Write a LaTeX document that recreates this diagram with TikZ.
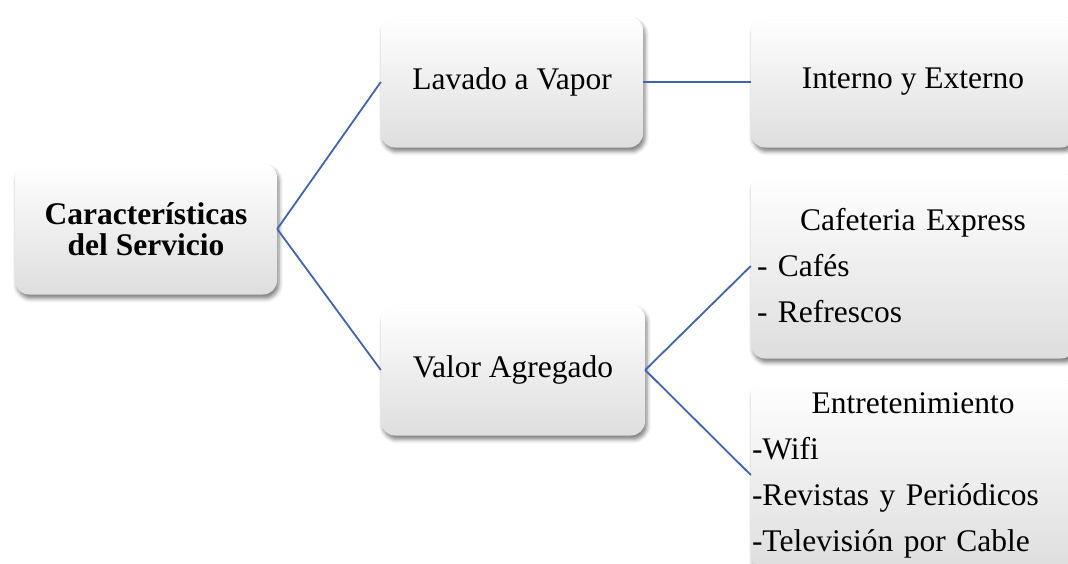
\documentclass[tikz,border=0pt]{standalone}
\usepackage{fontspec}
\setmainfont{Liberation Serif}
\usetikzlibrary{shadows.blur}
\definecolor{linea}{RGB}{66,100,172}

\begin{document}
\begin{tikzpicture}[x=1pt, y=-1pt,
		caja/.style={rounded corners=14pt, top color=white, middle color=white, bottom color=black!13,
			blur shadow={shadow xshift=2pt, shadow yshift=-4pt, shadow opacity=50, shadow blur radius=4pt},
			inner sep=0pt, align=center, font=\fontsize{31.5}{46}\selectfont},
		enlace/.style={draw=linea, line width=1.8pt}]
			\useasboundingbox (0,0) rectangle (1068,563);
			% nivel 1
			\node[caja, minimum width=262pt, minimum height=131pt, font=\bfseries\fontsize{31.5}{31}\selectfont] (raiz) at (146,229) {Características\\del Servicio};
			% nivel 2
			\node[caja, minimum width=262pt, minimum height=131pt] (lavado) at (512,82) {Lavado a Vapor};
			\node[caja, minimum width=264pt, minimum height=131pt] (valor) at (513,370) {Valor Agregado};
			% nivel 3
			\node[caja, minimum width=324pt, minimum height=131pt] (interno) at (913,82) {Interno y Externo};
			\node[caja, minimum width=324pt, minimum height=185pt, inner xsep=6pt, text width=312pt, align=left] (cafe) at (913,266)
				{\makebox[\linewidth][c]{Cafeteria Express}\\- Cafés\\- Refrescos};
			\node[caja, minimum width=324pt, minimum height=191pt, inner xsep=1pt, text width=322pt, align=left] (entre) at (913,475)
				{\makebox[\linewidth][c]{Entretenimiento}\\-Wifi\\-Revistas y Periódicos\\-Televisión por Cable};
			\draw[enlace] (raiz.east) -- (lavado.west);
			\draw[enlace] (raiz.east) -- (valor.west);
			\draw[enlace] (lavado.east) -- (interno.west);
			\draw[enlace] (valor.east) -- (cafe.west);
			\draw[enlace] (valor.east) -- (entre.west);
		\end{tikzpicture}
\end{document}
